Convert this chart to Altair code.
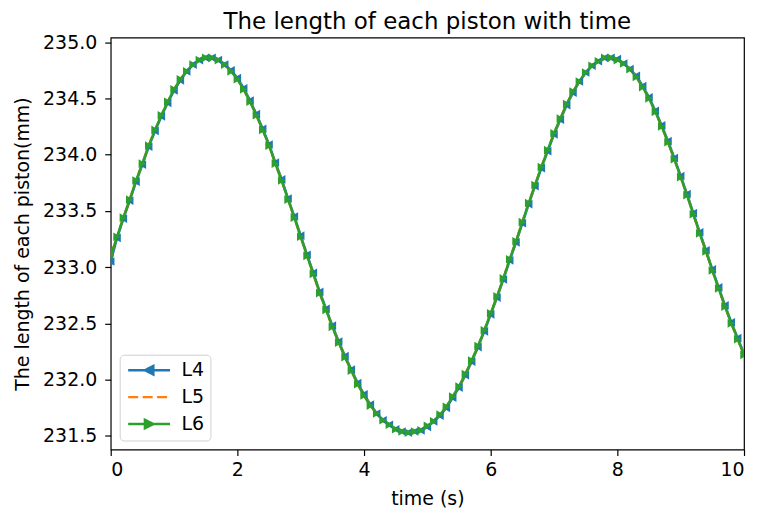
import altair as alt
import pandas as pd

# sampling instants (s)
time_s = [0.0, 0.1, 0.2, 0.3, 0.4, 0.5, 0.6, 0.7, 0.8, 0.9,
          1.0, 1.1, 1.2, 1.3, 1.4, 1.5, 1.6, 1.7, 1.8, 1.9,
          2.0, 2.1, 2.2, 2.3, 2.4, 2.5, 2.6, 2.7, 2.8, 2.9,
          3.0, 3.1, 3.2, 3.3, 3.4, 3.5, 3.6, 3.7, 3.8, 3.9,
          4.0, 4.1, 4.2, 4.3, 4.4, 4.5, 4.6, 4.7, 4.8, 4.9,
          5.0, 5.1, 5.2, 5.3, 5.4, 5.5, 5.6, 5.7, 5.8, 5.9,
          6.0, 6.1, 6.2, 6.3, 6.4, 6.5, 6.6, 6.7, 6.8, 6.9,
          7.0, 7.1, 7.2, 7.3, 7.4, 7.5, 7.6, 7.7, 7.8, 7.9,
          8.0, 8.1, 8.2, 8.3, 8.4, 8.5, 8.6, 8.7, 8.8, 8.9,
          9.0, 9.1, 9.2, 9.3, 9.4, 9.5, 9.6, 9.7, 9.8, 9.9,
          10.0]

# piston lengths (mm)
L4 = [233.05, 233.26, 233.43, 233.59, 233.76, 233.91, 234.07, 234.21, 234.34, 234.46,
      234.57, 234.66, 234.74, 234.80, 234.84, 234.86, 234.86, 234.84, 234.80, 234.75,
      234.68, 234.59, 234.48, 234.36, 234.23, 234.09, 233.93, 233.78, 233.61, 233.45,
      233.28, 233.11, 232.95, 232.78, 232.63, 232.48, 232.34, 232.21, 232.09, 231.97,
      231.87, 231.78, 231.70, 231.64, 231.60, 231.56, 231.54, 231.53, 231.54, 231.55,
      231.58, 231.63, 231.68, 231.75, 231.84, 231.93, 232.04, 232.16, 232.29, 232.43,
      232.58, 232.73, 232.89, 233.06, 233.22, 233.39, 233.56, 233.72, 233.88, 234.03,
      234.18, 234.31, 234.44, 234.55, 234.65, 234.73, 234.79, 234.83, 234.86, 234.86,
      234.85, 234.81, 234.76, 234.70, 234.61, 234.51, 234.39, 234.26, 234.12, 233.97,
      233.81, 233.65, 233.48, 233.31, 233.15, 232.98, 232.82, 232.66, 232.51, 232.37,
      232.23]

L5 = [233.10, 233.27, 233.44, 233.60, 233.77, 233.92, 234.08, 234.22, 234.35, 234.47,
      234.58, 234.67, 234.74, 234.80, 234.84, 234.86, 234.86, 234.84, 234.80, 234.74,
      234.67, 234.58, 234.47, 234.35, 234.22, 234.08, 233.92, 233.77, 233.60, 233.44,
      233.27, 233.10, 232.94, 232.77, 232.62, 232.47, 232.33, 232.20, 232.08, 231.96,
      231.86, 231.77, 231.70, 231.64, 231.60, 231.56, 231.54, 231.53, 231.54, 231.55,
      231.59, 231.63, 231.69, 231.76, 231.85, 231.94, 232.05, 232.17, 232.30, 232.44,
      232.59, 232.74, 232.90, 233.07, 233.23, 233.40, 233.57, 233.73, 233.89, 234.04,
      234.19, 234.32, 234.45, 234.56, 234.65, 234.73, 234.79, 234.83, 234.86, 234.86,
      234.84, 234.81, 234.76, 234.69, 234.60, 234.50, 234.38, 234.25, 234.11, 233.96,
      233.80, 233.64, 233.47, 233.30, 233.14, 232.97, 232.81, 232.65, 232.50, 232.36,
      232.22]

L6 = [233.10, 233.27, 233.44, 233.60, 233.77, 233.92, 234.08, 234.22, 234.35, 234.47,
      234.58, 234.67, 234.74, 234.80, 234.84, 234.86, 234.86, 234.84, 234.80, 234.74,
      234.67, 234.58, 234.47, 234.35, 234.22, 234.08, 233.92, 233.77, 233.60, 233.44,
      233.27, 233.10, 232.94, 232.77, 232.62, 232.47, 232.33, 232.20, 232.08, 231.96,
      231.86, 231.77, 231.70, 231.64, 231.60, 231.56, 231.54, 231.53, 231.54, 231.55,
      231.59, 231.63, 231.69, 231.76, 231.85, 231.94, 232.05, 232.17, 232.30, 232.44,
      232.59, 232.74, 232.90, 233.07, 233.23, 233.40, 233.57, 233.73, 233.89, 234.04,
      234.19, 234.32, 234.45, 234.56, 234.65, 234.73, 234.79, 234.83, 234.86, 234.86,
      234.84, 234.81, 234.76, 234.69, 234.60, 234.50, 234.38, 234.25, 234.11, 233.96,
      233.80, 233.64, 233.47, 233.30, 233.14, 232.97, 232.81, 232.65, 232.50, 232.36,
      232.22]

series_names = ["L4", "L5", "L6"]
series_colors = ["#1f77b4", "#ff7f0e", "#2ca02c"]
x_ticks = [0, 2, 4, 6, 8, 10]
y_ticks = [231.5, 232.0, 232.5, 233.0, 233.5, 234.0, 234.5, 235.0]

rows = []
for name, vals in zip(series_names, [L4, L5, L6]):
    for t, v in zip(time_s, vals):
        rows.append({"t": t, "v": v, "series": name})
df = pd.DataFrame(rows)

FONT = "DejaVu Sans"

legend_shape = (
    "datum.value === 'L4' ? 'M-1,0H5M1.4,0L2.6,-0.6L2.6,0.6Z' : "
    "datum.value === 'L6' ? 'M-1,0H5M2.6,0L1.4,-0.6L1.4,0.6Z' : 'M-1,0H5'"
)
legend_dash = "datum.value === 'L5' ? [10, 4.5] : [1, 0]"
legend_col = "scale('color', datum.value)"

legend = alt.Legend(
    title=None,
    orient="bottom-left",
    offset=9,
    padding=6,
    rowPadding=7,
    labelFont=FONT,
    labelFontSize=19,
    labelColor="black",
    labelOffset=37,
    symbolSize=196,
    symbolStrokeWidth=2.5,
    symbolOpacity=1,
    symbolType=alt.ExprRef(expr=legend_shape),
    symbolDash=alt.ExprRef(expr=legend_dash),
    symbolFillColor=alt.ExprRef(expr=legend_col),
    symbolStrokeColor=alt.ExprRef(expr=legend_col),
    strokeColor="#d0d0d0",
    fillColor="white",
    cornerRadius=4,
)

x_enc = alt.X(
    "t:Q",
    scale=alt.Scale(domain=[0, 10], nice=False, zero=False),
    axis=alt.Axis(values=x_ticks, format="d", title="time (s)",
                  labelPadding=5, titlePadding=10),
)
y_enc = alt.Y(
    "v:Q",
    scale=alt.Scale(domain=[231.38, 235.04], nice=False, zero=False),
    axis=alt.Axis(values=y_ticks, format=".1f",
                  title="The length of each piston(mm)",
                  labelPadding=8, titlePadding=10),
)
color_enc = alt.Color(
    "series:N",
    scale=alt.Scale(domain=series_names, range=series_colors),
    legend=legend,
)

base = alt.Chart(df)

lines = base.mark_line(strokeWidth=2.5, clip=True).encode(
    x=x_enc,
    y=y_enc,
    color=color_enc,
    strokeDash=alt.StrokeDash(
        "series:N",
        scale=alt.Scale(domain=series_names, range=[[1, 0], [10, 4.5], [1, 0]]),
        legend=None,
    ),
    order="t:Q",
)

points = base.transform_filter(
    alt.datum.series != "L5"
).mark_point(filled=True, size=75, opacity=1, clip=True).encode(
    x=x_enc,
    y=y_enc,
    color=alt.Color("series:N", scale=alt.Scale(domain=series_names, range=series_colors), legend=None),
    shape=alt.Shape(
        "series:N",
        scale=alt.Scale(domain=["L4", "L6"], range=["triangle-left", "triangle-right"]),
        legend=None,
    ),
)

chart = (
    alt.layer(lines, points)
    .properties(
        width=635,
        height=413,
        padding={"left": 5, "top": 2, "right": 4, "bottom": 0},
        autosize=alt.AutoSizeParams(type="pad"),
        background="white",
        title=alt.TitleParams(
            "The length of each piston with time",
            font=FONT,
            fontSize=23,
            fontWeight="normal",
            color="black",
            anchor="middle",
            frame="group",
            offset=-1,
        ),
    )
    .configure_axis(
        labelFont=FONT,
        labelFontSize=19,
        labelColor="black",
        titleFont=FONT,
        titleFontSize=19,
        titleFontWeight="normal",
        titleColor="black",
        tickColor="black",
        tickSize=6,
        tickWidth=1.2,
        domain=False,
        grid=False,
    )
    .configure_view(stroke="black", strokeWidth=1.2)
)

chart.save("out.html", embed_options={"renderer": "svg", "actions": False})
